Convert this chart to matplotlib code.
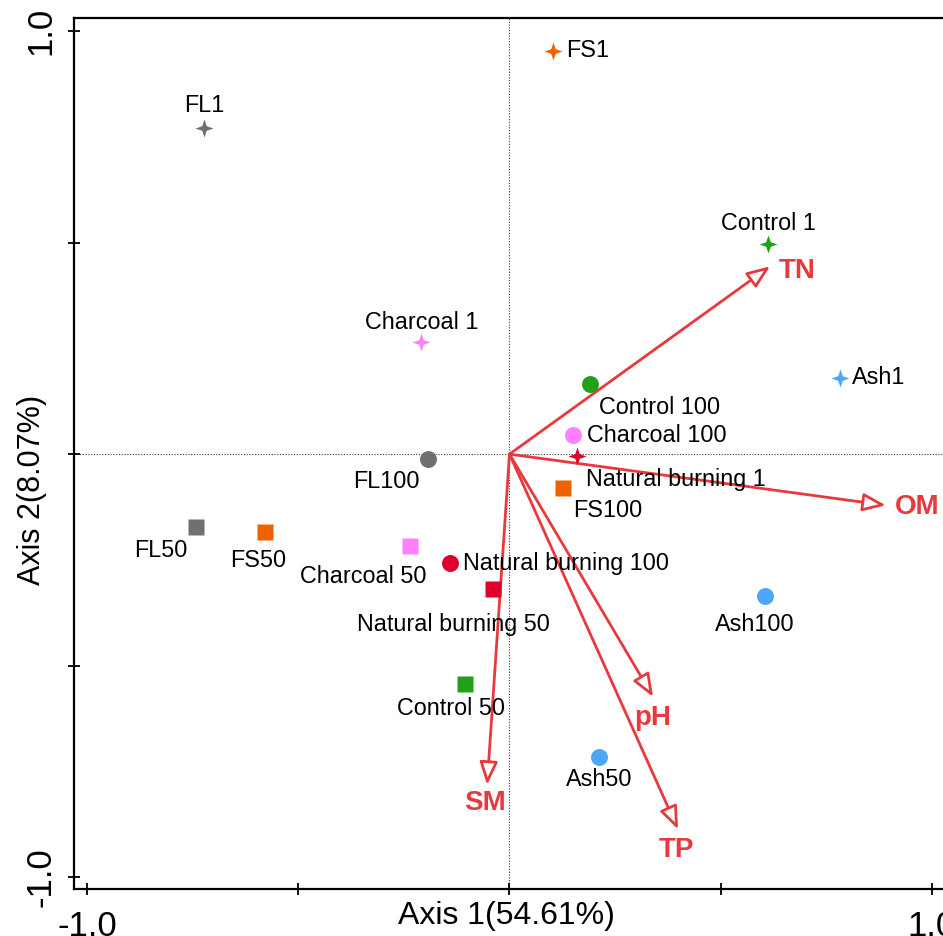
import numpy as np
import matplotlib.pyplot as plt
from matplotlib.patches import FancyArrowPatch

plt.rcParams['font.family'] = ['Liberation Sans', 'DejaVu Sans']

# sample scores (axis 1, axis 2)
names = ["FS1", "FL1", "Control 1", "Charcoal 1", "Ash1", "Control 100",
         "Charcoal 100", "Natural burning 1", "FL100", "FS100", "FL50", "FS50",
         "Charcoal 50", "Natural burning 100", "Natural burning 50", "Ash100",
         "Control 50", "Ash50"]
ax1 = [0.103, -0.723, 0.612, -0.209, 0.782, 0.191, 0.150, 0.160, -0.193, 0.127,
       -0.742, -0.579, -0.236, -0.141, -0.039, 0.605, -0.105, 0.212]
ax2 = [0.953, 0.771, 0.496, 0.265, 0.180, 0.165, 0.045, -0.005, -0.012, -0.080,
       -0.173, -0.184, -0.217, -0.258, -0.319, -0.336, -0.544, -0.716]
group = ["FS", "FL", "Control", "Charcoal", "Ash", "Control", "Charcoal",
         "Natural", "FL", "FS", "FL", "FS", "Charcoal", "Natural", "Natural",
         "Ash", "Control", "Ash"]
shape = ["star", "star", "star", "star", "star", "circle", "circle", "star",
         "circle", "square", "square", "square", "square", "circle", "square",
         "circle", "square", "circle"]

# environmental vectors
env_names = ["TN", "OM", "pH", "TP", "SM"]
env_x = [0.617, 0.891, 0.340, 0.399, -0.053]
env_y = [0.444, -0.121, -0.574, -0.887, -0.782]

colors = {"FS": "#EE6200", "FL": "#707074", "Control": "#22A01A",
          "Charcoal": "#FF80FF", "Ash": "#4DA6F7", "Natural": "#E0002C"}
arrow_col = "#E8393D"

# label placement: (dx, dy) in pixels, horizontal alignment
lab_pos = [(13, 0, 'left'), (0, 22, 'center'), (0, 21, 'center'), (0, 20, 'center'),
           (12, 0, 'left'), (9, -23, 'left'), (14, 0, 'left'), (9, -23, 'left'),
           (-8, -22, 'right'), (10, -23, 'left'), (-9, -23, 'right'), (-7, -29, 'center'),
           (-47, -31, 'center'), (13, 0, 'left'), (-40, -35, 'center'), (-10, -28, 'center'),
           (-14, -24, 'center'), (0, -22, 'center')]
env_pos = [(9, -5, 'left'), (9, -2, 'left'), (0, -21, 'center'), (-2, -21, 'center'),
           (-2, -18, 'center')]

# 4 pointed star
ang = np.arange(8) * np.pi / 4 + np.pi / 2
rad = np.where(np.arange(8) % 2 == 0, 1.0, 0.36)
star = list(zip(rad * np.cos(ang), rad * np.sin(ang)))
markers = {"star": (star, 13), "circle": ('o', 12.2), "square": ('s', 11.3)}

fig = plt.figure(figsize=(9.43, 9.36), dpi=100)
ax = fig.add_axes([74 / 943, 47 / 936, 871 / 943, 871 / 936])
ax.set_xlim(-1.031, 1.031)
ax.set_ylim(-1.028, 1.031)

ax.axhline(0, color='#333333', ls=(0, (1, 1.5)), lw=0.8, zorder=1)
ax.axvline(0, color='#333333', ls=(0, (1, 1.5)), lw=0.8, zorder=1)

for i in range(len(names)):
    m, ms = markers[shape[i]]
    ax.plot(ax1[i], ax2[i], marker=m, ms=ms, color=colors[group[i]],
            mec='none', ls='none', zorder=4)
    dx, dy, ha = lab_pos[i]
    ax.annotate(names[i], (ax1[i], ax2[i]), xytext=(dx, dy), textcoords='offset pixels',
                ha=ha, va='center', fontsize=16.8, zorder=5)

for i in range(len(env_names)):
    arr = FancyArrowPatch((0, 0), (env_x[i], env_y[i]),
                          arrowstyle='-|>,head_length=14,head_width=5.5',
                          mutation_scale=1, shrinkA=0, shrinkB=0,
                          lw=2, ec=arrow_col, fc='white', zorder=3)
    ax.add_patch(arr)
    dx, dy, ha = env_pos[i]
    ax.annotate(env_names[i], (env_x[i], env_y[i]), xytext=(dx, dy),
                textcoords='offset pixels', ha=ha, va='center', fontsize=20,
                fontweight='bold', color=arrow_col, zorder=5)

ticks = [-1, -0.5, 0, 0.5, 1]
ax.set_xticks(ticks)
ax.set_xticklabels(['-1.0', '', '', '', '1.0'], fontsize=25)
ax.set_yticks(ticks)
ax.set_yticklabels(['-1.0', '', '', '', '1.0'], fontsize=25, rotation=90, va='center')
ax.tick_params(axis='x', direction='inout', length=8, width=1.3, pad=11)
ax.tick_params(axis='y', direction='inout', length=8, width=1.3, pad=8)
for s in ax.spines.values():
    s.set_linewidth(1.6)

fig.text(506 / 943, 1 - 916 / 936, "Axis 1(54.61%)", ha='center', va='center', fontsize=23)
fig.text(32 / 943, 1 - 490 / 936, "Axis 2(8.07%)", ha='center', va='center',
         fontsize=22, rotation=90)

fig.savefig("out.png", dpi=100)
